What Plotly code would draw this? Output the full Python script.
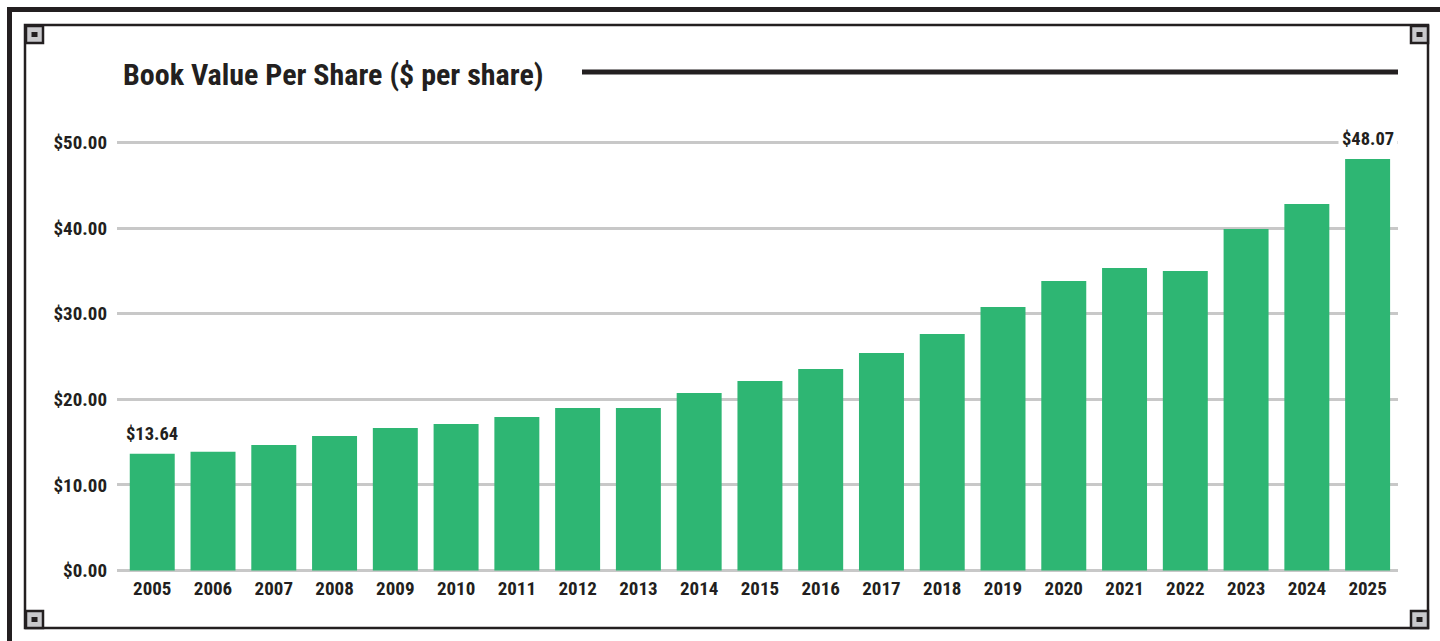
import plotly.graph_objects as go

# ---- data ----
years = [str(y) for y in range(2005, 2026)]
book_value = [13.64, 13.88, 14.66, 15.71, 16.65, 17.11, 17.93, 18.98, 18.97, 20.74,
              22.14, 23.54, 25.41, 27.63, 30.78, 33.82, 35.34, 34.99, 39.89, 42.82, 48.07]
label_years = ["2005", "2025"]
label_values = [13.64, 48.07]
y_ticks = [0, 10, 20, 30, 40, 50]
title_text = "Book Value Per Share ($ per share)"

W, H = 1440, 641
FONT = "Roboto Condensed, Open Sans Condensed, sans-serif"
DARK = "#231f20"
GREEN = "#2eb673"
GRID = "#c8c8c8"


def px(x):
    return x / W


def py(y):
    return 1 - y / H


fig = go.Figure()
fig.add_trace(go.Bar(x=years, y=book_value, marker=dict(color=GREEN, line=dict(width=0)),
                     width=0.74, hoverinfo="x+y"))

for yr, v in zip(label_years, label_values):
    fig.add_annotation(x=years.index(yr), y=v, xref="x", yref="y", text=f"${v:.2f}", showarrow=False,
                       yanchor="middle", yshift=20, bgcolor="white", borderpad=3,
                       font=dict(family=FONT, size=18.5, color=DARK, weight="bold"))

# title
fig.add_annotation(x=px(121), y=py(74), xref="paper", yref="paper", text=title_text,
                   showarrow=False, xanchor="left", yanchor="middle",
                   font=dict(family=FONT, size=30, color=DARK, weight="bold"))

shapes = []
# title rule
shapes.append(dict(type="line", xref="paper", yref="paper", x0=px(582), x1=px(1398),
                   y0=py(72), y1=py(72), line=dict(color=DARK, width=5)))
# outer frame (top + left visible)
shapes.append(dict(type="rect", xref="paper", yref="paper", x0=px(9.5), x1=px(1470),
                   y0=py(9.5), y1=py(680), line=dict(color=DARK, width=5)))
# inner frame
shapes.append(dict(type="rect", xref="paper", yref="paper", x0=px(25), x1=px(1428),
                   y0=py(25), y1=py(628), line=dict(color=DARK, width=2.5)))
# corner squares
for (cx, cy) in [(34.5, 34.5), (1419.5, 34.5), (34.5, 619.5), (1419.5, 619.5)]:
    shapes.append(dict(type="rect", xref="paper", yref="paper", x0=px(cx - 8.5), x1=px(cx + 8.5),
                       y0=py(cy - 8.5), y1=py(cy + 8.5), fillcolor="#c9c9cc",
                       line=dict(color=DARK, width=2.5)))
    shapes.append(dict(type="rect", xref="paper", yref="paper", x0=px(cx - 3), x1=px(cx + 3),
                       y0=py(cy - 2.5), y1=py(cy + 2.5), fillcolor=DARK, line=dict(width=0)))

scale = 428 / 50.0
y_lo, y_hi = -0.5, 50.5
fig.update_layout(
    width=W, height=H, margin=dict(l=0, r=0, t=0, b=0, autoexpand=False),
    paper_bgcolor="white", plot_bgcolor="white", showlegend=False,
    shapes=shapes,
    xaxis=dict(type="category", domain=[px(117), px(1398)], range=[-0.58, 20.5],
               showgrid=False, zeroline=False, showline=False, ticks="", automargin=False,
               tickfont=dict(family=FONT, size=19, color=DARK, weight="bold"),
               ticklabelstandoff=0, fixedrange=True),
    yaxis=dict(domain=[py(570.5 + 0.5 * scale), py(142.5 - 0.5 * scale)], range=[y_lo, y_hi],
               tickvals=y_ticks, ticktext=[f"${v:.2f}" for v in y_ticks], automargin=False,
               showgrid=True, gridcolor=GRID, gridwidth=3,
               zeroline=True, zerolinecolor=GRID, zerolinewidth=3, showline=False, ticks="",
               tickfont=dict(family=FONT, size=19, color=DARK, weight="bold"),
               ticklabelstandoff=9, fixedrange=True),
    bargap=0.26,
)

fig.write_html("out.html")
